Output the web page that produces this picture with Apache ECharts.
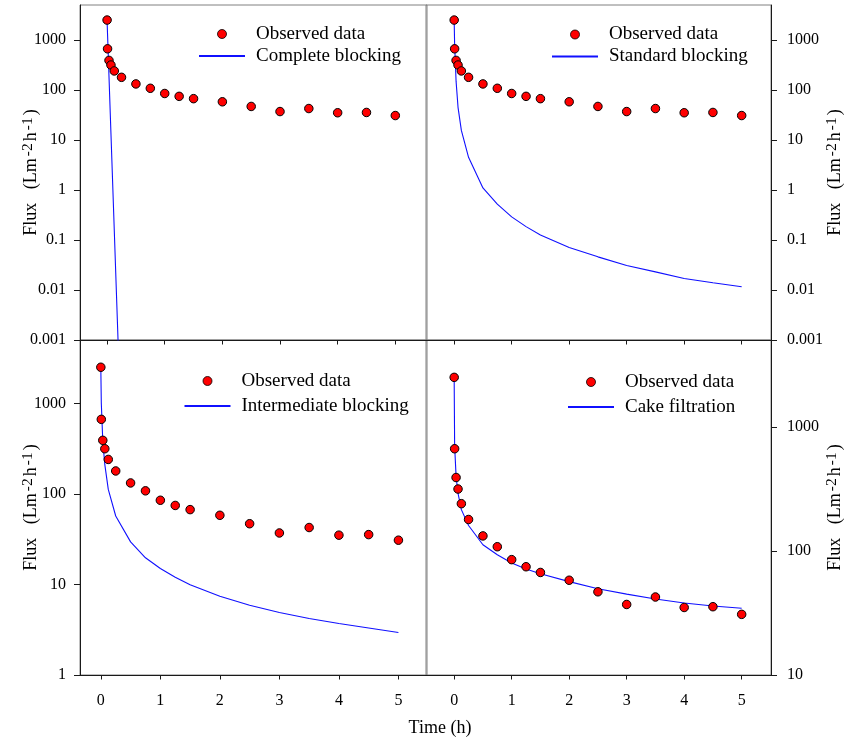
<!DOCTYPE html>
<html><head><meta charset="utf-8">
<script src="https://cdn.jsdelivr.net/npm/echarts@6/dist/echarts.min.js"></script>
<style>html,body{margin:0;padding:0;background:#fff}#c{width:848px;height:742px}</style>
</head><body><div id="c"></div>
<script>
// ---- data ----
const timeObs = [0, 0.008, 0.033, 0.067, 0.125, 0.25, 0.5, 0.75, 1, 1.25, 1.5, 2, 2.5, 3, 3.5, 4, 4.5, 5];
const fluxObs = [2500, 665, 390, 315, 240, 179, 132, 108, 85, 74.5, 67, 58, 46.8, 37, 42.5, 35, 35.5, 30.8];
const timeComplete = [0, 0.008, 0.033, 0.067, 0.125, 0.25];
const fluxComplete = [2400, 1290, 186, 13.5, 0.151, 0.0000095];
const fluxStandard = [2400, 800, 150, 45, 15.5, 4.5, 1.1, 0.52, 0.29, 0.185, 0.126, 0.071, 0.046, 0.031, 0.023, 0.017, 0.014, 0.0116];
const fluxIntermediate = [2400, 1000, 380, 210, 112, 57, 29.5, 19.7, 15, 12, 9.9, 7.4, 5.9, 4.9, 4.2, 3.7, 3.3, 2.95];
const fluxCake = [2400, 700, 400, 290, 215, 160, 112, 93, 80, 71.5, 65.5, 56.5, 49.5, 44.8, 41, 38, 36, 34.5];
const obsName = 'Observed data';
const modelNames = ['Complete blocking', 'Standard blocking', 'Intermediate blocking', 'Cake filtration'];
const yTicksTop = [0.001, 0.01, 0.1, 1, 10, 100, 1000];
const yTicksBL = [1, 10, 100, 1000];
const yTicksBR = [10, 100, 1000];
const xTicks = [0, 1, 2, 3, 4, 5];
const xTitle = 'Time (h)';

// ---- layout / style ----
const FONT = '"Liberation Serif", "Times New Roman", serif';
const AXIS_C = '#1a1a1a';
const FRAME_C = '#808080';
const panels = [
  {grid:{left:80, top:5, width:347, height:335}, x:[-0.47,5.55], y:[0.001,5000], yTicks:yTicksTop, yPos:'left', xLab:false,
   mt:timeComplete, mf:fluxComplete, leg:{left:198, top:24, gap:2}},
  {grid:{left:426, top:5, width:345, height:335}, x:[-0.49,5.51], y:[0.001,5000], yTicks:yTicksTop, yPos:'right', xLab:false,
   mt:timeObs, mf:fluxStandard, leg:{left:551, top:24.5, gap:2}},
  {grid:{left:80, top:340, width:347, height:335}, x:[-0.35,5.48], y:[1,5000], yTicks:yTicksBL, yPos:'left', xLab:true,
   mt:timeObs, mf:fluxIntermediate, leg:{left:183.5, top:371, gap:5}},
  {grid:{left:426, top:340, width:345, height:335}, x:[-0.49,5.51], y:[10,5000], yTicks:yTicksBR, yPos:'right', xLab:true,
   mt:timeObs, mf:fluxCake, leg:{left:567, top:372, gap:5}}
];

const fmt = v => String(+(+v).toPrecision(6));
const yName = '{a|Flux   (Lm}{s|-2}{a|h}{s|-1}{a|)}';
const nameRich = {
  a: {fontFamily: FONT, fontSize: 18, color: '#000', lineHeight: 20, padding: [8,0,0,0], verticalAlign: 'bottom'},
  s: {fontFamily: FONT, fontSize: 15.5, color: '#000', lineHeight: 16, padding: [0,2,0,2], verticalAlign: 'top'}
};

const option = {
  animation: false,
  backgroundColor: '#fff',
  grid: [], xAxis: [], yAxis: [], series: [], legend: [],
  graphic: [{
    type: 'text', x: 440, y: 728,
    style: {text: xTitle, align: 'center', verticalAlign: 'middle', font: '18px ' + FONT, fill: '#000'}
  }]
};

panels.forEach((p, i) => {
  option.grid.push(Object.assign({show: true, borderColor: FRAME_C, borderWidth: 1, backgroundColor: 'transparent'}, p.grid));
  option.xAxis.push({
    type: 'value', gridIndex: i, min: p.x[0], max: p.x[1],
    axisLine: {show: true, onZero: false, lineStyle: {color: AXIS_C, width: 1}},
    axisTick: {show: true, length: 4.5, customValues: xTicks, lineStyle: {color: AXIS_C}},
    axisLabel: {show: p.xLab, customValues: xTicks, formatter: fmt, fontFamily: FONT, fontSize: 16, color: '#000', margin: 18},
    splitLine: {show: false}
  });
  option.yAxis.push({
    type: 'log', logBase: 10, gridIndex: i, min: p.y[0], max: p.y[1], position: p.yPos,
    axisLine: {show: true, onZero: false, lineStyle: {color: AXIS_C, width: 1}},
    axisTick: {show: true, length: 6, customValues: p.yTicks, lineStyle: {color: AXIS_C}},
    axisLabel: {customValues: p.yTicks, formatter: fmt, fontFamily: FONT, fontSize: 16, color: '#000',
                margin: p.yPos === 'left' ? 14 : 16},
    splitLine: {show: false}, minorTick: {show: false},
    name: yName, nameLocation: 'middle', nameRotate: 90, nameGap: p.yPos === 'left' ? 40 : 53,
    nameMoveOverlap: false,
    nameTextStyle: {rich: nameRich}
  });
  option.series.push({
    type: 'line', name: modelNames[i], xAxisIndex: i, yAxisIndex: i,
    data: p.mt.map((t, k) => [t, p.mf[k]]),
    symbol: 'none', clip: true, smooth: false,
    lineStyle: {color: '#1010ff', width: 1.1}, itemStyle: {color: '#1010ff'}, z: 2
  });
  option.series.push({
    type: 'scatter', name: obsName, xAxisIndex: i, yAxisIndex: i,
    data: timeObs.map((t, k) => [t, fluxObs[k]]),
    symbol: 'circle', symbolSize: 8.5,
    itemStyle: {color: '#ff0000', borderColor: '#000', borderWidth: 1, opacity: 1}, z: 3
  });
  option.legend.push({
    orient: 'vertical', left: p.leg.left, top: p.leg.top, padding: 0, itemGap: p.leg.gap,
    itemWidth: 46, itemHeight: 9, selectedMode: false,
    data: [
      {name: obsName, icon: 'circle', itemStyle: {color: '#ff0000', borderColor: '#000', borderWidth: 0.8}},
      {name: modelNames[i], itemStyle: {color: 'rgba(0,0,0,0)', borderWidth: 0, opacity: 0}}
    ],
    textStyle: {fontFamily: FONT, fontSize: 19, color: '#000', lineHeight: 20, padding: [0,0,0,6]}
  });
});

const chart = echarts.init(document.getElementById('c'), null, {renderer: 'canvas'});
chart.setOption(option);
</script>
</body></html>
